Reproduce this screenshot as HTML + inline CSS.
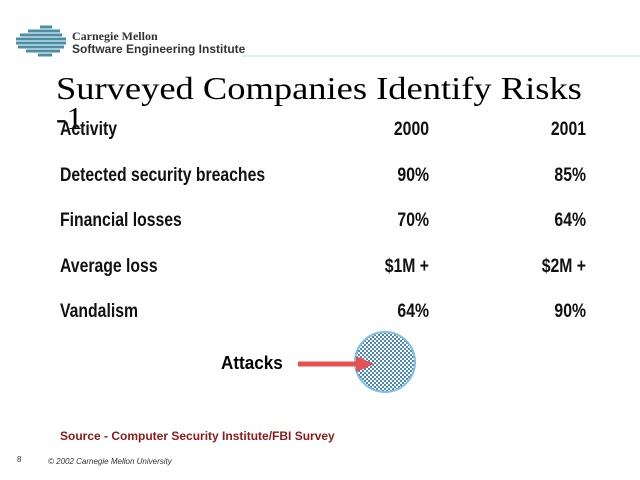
<!DOCTYPE html>
<html><head><meta charset="utf-8"><style>
body{margin:0;width:640px;height:480px;background:#fff;position:relative;overflow:hidden;font-family:"Liberation Sans",sans-serif}
.a{position:absolute;white-space:nowrap}
.r{font-family:"Liberation Sans",sans-serif;font-weight:bold;font-size:19px;color:#111;transform:scaleX(0.83);transform-origin:left top}
.n{text-align:right;width:100px;transform-origin:right top}
</style></head><body>
<svg class="a" style="left:0;top:0" width="640" height="480">
<g stroke="#4a8fa6" stroke-width="3">
<line x1="40" y1="27" x2="52" y2="27"/><line x1="28" y1="31" x2="60" y2="31"/><line x1="20" y1="35" x2="62" y2="35"/>
<line x1="16" y1="39" x2="66" y2="39"/><line x1="16" y1="43" x2="66" y2="43"/><line x1="18" y1="47" x2="64" y2="47"/>
<line x1="26" y1="51" x2="60" y2="51"/><line x1="38" y1="55" x2="52" y2="55"/></g>
<line x1="242" y1="56" x2="640" y2="56" stroke="#bcdde8" stroke-width="1"/>
<defs><pattern id="d" width="4" height="4" patternUnits="userSpaceOnUse"><rect width="4" height="4" fill="#fff"/><rect width="2" height="2" fill="#4a86c0"/><rect x="2" y="2" width="2" height="2" fill="#4a86c0"/></pattern></defs>
<circle cx="385" cy="362" r="30" fill="url(#d)" stroke="#7cc0e6" stroke-width="2"/>
<line x1="298" y1="364" x2="360" y2="364" stroke="#e85050" stroke-width="5"/>
<polygon points="356,356 374,364 356,372" fill="#e85050"/>
</svg>
<div class="a" style="left:72px;top:29px;font-family:'Liberation Serif',serif;font-weight:bold;font-size:12px;color:#333">Carnegie Mellon</div>
<div class="a" style="left:72px;top:42px;font-weight:bold;font-size:12px;color:#333">Software Engineering Institute</div>
<div class="a" style="left:56px;top:70px;font-family:'Liberation Serif',serif;font-size:32px;color:#000;transform:scaleX(1.14);transform-origin:left top">Surveyed Companies Identify Risks</div>
<div class="a" style="left:56px;top:100px;font-family:'Liberation Serif',serif;font-size:32px;color:#000">-1</div>
<div class="a r" style="left:60px;top:119px">Activity</div>
<div class="a r n" style="left:329px;top:119px">2000</div>
<div class="a r n" style="left:486px;top:119px">2001</div>
<div class="a r" style="left:60px;top:165px">Detected security breaches</div>
<div class="a r n" style="left:329px;top:165px">90%</div><div class="a r n" style="left:486px;top:165px">85%</div>
<div class="a r" style="left:60px;top:210px">Financial losses</div>
<div class="a r n" style="left:329px;top:210px">70%</div><div class="a r n" style="left:486px;top:210px">64%</div>
<div class="a r" style="left:60px;top:256px">Average loss</div>
<div class="a r n" style="left:329px;top:256px">$1M +</div><div class="a r n" style="left:486px;top:256px">$2M +</div>
<div class="a r" style="left:60px;top:301px">Vandalism</div>
<div class="a r n" style="left:329px;top:301px">64%</div><div class="a r n" style="left:486px;top:301px">90%</div>
<div class="a" style="left:221px;top:353px;font-weight:bold;font-size:18px;color:#000;transform:scaleX(0.95);transform-origin:left top">Attacks</div>
<div class="a" style="left:60px;top:429px;font-weight:bold;font-size:12px;color:#8b1a1a">Source - Computer Security Institute/FBI Survey</div>
<div class="a" style="left:17px;top:455px;font-size:8px;color:#333">8</div>
<div class="a" style="left:48px;top:457px;font-size:8px;font-style:italic;color:#333">© 2002 Carnegie Mellon University</div>
</body></html>
